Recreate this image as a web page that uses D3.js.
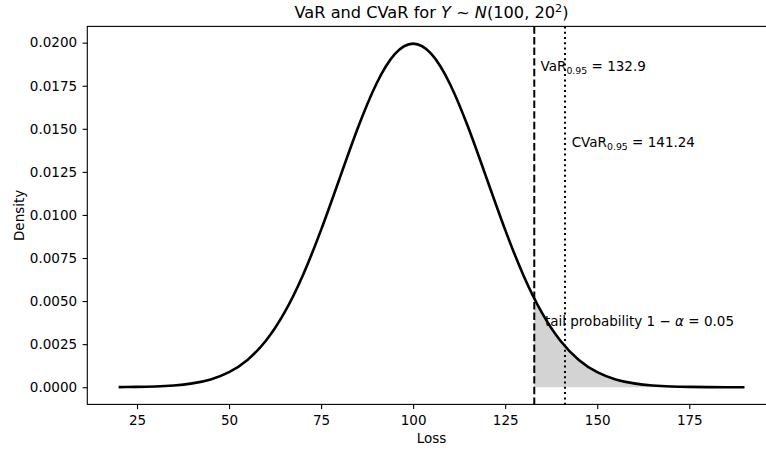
<!DOCTYPE html>
<html>
<head>
<meta charset="utf-8">
<script src="https://cdn.jsdelivr.net/npm/d3@7"></script>
<style>
  body { margin: 0; background: #fff; }
  svg { font-family: "DejaVu Sans", sans-serif; display: block; }
</style>
</head>
<body>
<svg id="chart" width="766" height="451"></svg>
<script>
// loss values (x) and density
const lossValues = [20, 25, 30, 35, 40, 45, 50, 55, 60, 65, 70, 75, 80, 85, 90, 95, 100,
  105, 110, 115, 120, 125, 130, 135, 140, 145, 150, 155, 160, 165, 170, 175, 180, 185, 190];
const densityValues = [0.0000067, 0.0000176, 0.0000436, 0.0001014, 0.0002216, 0.0004546,
  0.0008764, 0.001587, 0.0026995, 0.004314, 0.006476, 0.009132, 0.012099, 0.015057,
  0.017603, 0.019333, 0.019947, 0.019333, 0.017603, 0.015057, 0.012099, 0.009132,
  0.006476, 0.004314, 0.0026995, 0.001587, 0.0008764, 0.0004546, 0.0002216, 0.0001014,
  0.0000436, 0.0000176, 0.0000067, 0.0000025, 0.0000009];

const varValue = 132.9;
const varDensity = 0.00516;
const cvarValue = 141.24;

const xTicks = [25, 50, 75, 100, 125, 150, 175];
const yTicks = [0, 0.0025, 0.005, 0.0075, 0.01, 0.0125, 0.015, 0.0175, 0.02];

const svg = d3.select("#chart");
const plotLeft = 87.3, plotTop = 26.4, plotRight = 775.8, plotBottom = 404.4;

// matplotlib style 5% margins
const xExt = d3.extent(lossValues);
const xPad = (xExt[1] - xExt[0]) * 0.05;
const x = d3.scaleLinear().domain([xExt[0] - xPad, xExt[1] + xPad]).range([plotLeft, plotRight]);
const yMax = d3.max(densityValues);
const yPad = yMax * 0.05;
const y = d3.scaleLinear().domain([-yPad, yMax + yPad]).range([plotBottom, plotTop]);

const points = lossValues.map((d, i) => ({ x: d, y: densityValues[i] }));
const tail = [{ x: varValue, y: varDensity }].concat(points.filter(p => p.x > varValue));

// shaded tail
svg.append("path")
  .datum(tail)
  .attr("fill", "#d3d3d3")
  .attr("d", d3.area().x(d => x(d.x)).y0(y(0)).y1(d => y(d.y)).curve(d3.curveNatural));

// density curve
svg.append("path")
  .datum(points)
  .attr("fill", "none")
  .attr("stroke", "#000")
  .attr("stroke-width", 2.6)
  .attr("d", d3.line().x(d => x(d.x)).y(d => y(d.y)).curve(d3.curveNatural));

// VaR and CVaR lines
svg.append("line")
  .attr("x1", x(varValue)).attr("x2", x(varValue))
  .attr("y1", plotTop).attr("y2", plotBottom)
  .attr("stroke", "#000").attr("stroke-width", 2)
  .attr("stroke-dasharray", "7.4,3.2");
svg.append("line")
  .attr("x1", x(cvarValue)).attr("x2", x(cvarValue))
  .attr("y1", plotTop).attr("y2", plotBottom)
  .attr("stroke", "#000").attr("stroke-width", 2)
  .attr("stroke-dasharray", "2,3.3");

// axes
const xAxis = svg.append("g")
  .attr("transform", `translate(0,${plotBottom})`)
  .call(d3.axisBottom(x).tickValues(xTicks).tickSize(4.7).tickPadding(6).tickFormat(d3.format("d")));
const yAxis = svg.append("g")
  .attr("transform", `translate(${plotLeft},0)`)
  .call(d3.axisLeft(y).tickValues(yTicks).tickSize(4.7).tickPadding(5.5).tickFormat(d3.format(".4f")));
[xAxis, yAxis].forEach(g => {
  g.select(".domain").remove();
  g.selectAll(".tick line").attr("stroke", "#000").attr("stroke-width", 1.1);
  g.selectAll(".tick text").attr("font-family", "DejaVu Sans").attr("font-size", 13.5).attr("fill", "#000");
});

// frame
svg.append("rect")
  .attr("x", plotLeft).attr("y", plotTop)
  .attr("width", plotRight - plotLeft).attr("height", plotBottom - plotTop)
  .attr("fill", "none").attr("stroke", "#000").attr("stroke-width", 1.1);

// title
const title = svg.append("text")
  .attr("x", (plotLeft + plotRight) / 2).attr("y", 17.5)
  .attr("text-anchor", "middle").attr("font-size", 16.2);
title.append("tspan").text("VaR and CVaR for ");
title.append("tspan").attr("font-style", "italic").text("Y");
title.append("tspan").text(" ~ ");
title.append("tspan").attr("font-style", "italic").text("N");
title.append("tspan").text("(100, 20");
title.append("tspan").attr("font-size", 11.3).attr("dy", -6).text("2");
title.append("tspan").attr("dy", 6).text(")");

// axis labels
svg.append("text")
  .attr("x", (plotLeft + plotRight) / 2).attr("y", 443)
  .attr("text-anchor", "middle").attr("font-size", 13.5)
  .text("Loss");
svg.append("text")
  .attr("transform", `translate(24,${(plotTop + plotBottom) / 2}) rotate(-90)`)
  .attr("text-anchor", "middle").attr("font-size", 13.5)
  .text("Density");

// annotations
function subLabel(name, sub, rest, xv, yv) {
  const t = svg.append("text")
    .attr("x", x(xv)).attr("y", y(yv)).attr("font-size", 13.5);
  t.append("tspan").text(name);
  t.append("tspan").attr("font-size", 9.4).attr("dy", 3).text(sub);
  t.append("tspan").attr("dy", -3).text(rest);
}
subLabel("VaR", "0.95", " = 132.9", 134.6, 0.01836);
subLabel("CVaR", "0.95", " = 141.24", 143.06, 0.01395);

const tailText = svg.append("text")
  .attr("x", x(135.8)).attr("y", y(0.00353)).attr("font-size", 13.5);
tailText.append("tspan").text("tail probability 1 \u2212 ");
tailText.append("tspan").attr("font-style", "italic").text("\u03b1");
tailText.append("tspan").text(" = 0.05");
</script>
</body>
</html>
